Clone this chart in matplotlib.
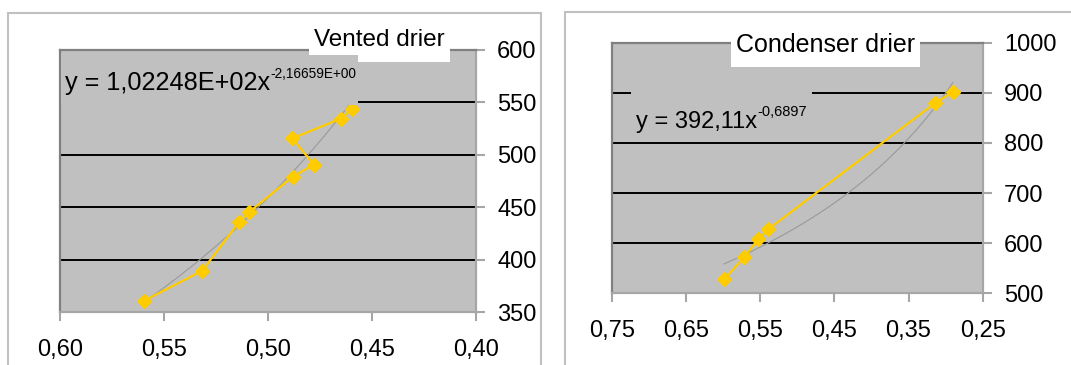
import matplotlib
matplotlib.use("Agg")
import matplotlib.pyplot as plt
import numpy as np
from matplotlib.patches import Rectangle

plt.rcParams['font.family'] = ['Liberation Sans', 'DejaVu Sans']

# ---------------- data ----------------
vented_x = [0.5596, 0.5316, 0.5138, 0.5090, 0.4881, 0.4779, 0.4883, 0.4650, 0.4593]
vented_y = [361.0, 389.6, 436.4, 445.6, 479.2, 490.7, 515.8, 534.5, 544.1]
vented_coef = (102.248, -2.16659)
vented_title = "Vented drier"
vented_eq_main = "y = 1,02248E+02x"
vented_eq_sup = "-2,16659E+00"
vented_xticks = [0.60, 0.55, 0.50, 0.45, 0.40]
vented_xticklabels = ["0,60", "0,55", "0,50", "0,45", "0,40"]
vented_yticks = [350, 400, 450, 500, 550, 600]
vented_yticklabels = ["350", "400", "450", "500", "550", "600"]

cond_x = [0.5986, 0.5716, 0.5527, 0.5392, 0.3149, 0.2901]
cond_y = [527.9, 571.8, 607.7, 627.7, 879.1, 901.6]
cond_coef = (392.11, -0.6897)
cond_title = "Condenser drier"
cond_eq_main = "y = 392,11x"
cond_eq_sup = "-0,6897"
cond_xticks = [0.75, 0.65, 0.55, 0.45, 0.35, 0.25]
cond_xticklabels = ["0,75", "0,65", "0,55", "0,45", "0,35", "0,25"]
cond_yticks = [500, 600, 700, 800, 900, 1000]
cond_yticklabels = ["500", "600", "700", "800", "900", "1000"]

# ---------------- figure ----------------
W, H = 1071, 365
fig = plt.figure(figsize=(W / 100, H / 100), dpi=100)
fig.patch.set_facecolor('white')


def fx(x):
    return x / W


def fy(y):
    return 1 - y / H


def frect(x0, y0, x1, y1, **kw):
    """rectangle given in pixel coords (top-left origin) -> figure fraction"""
    return Rectangle((fx(x0), fy(y1)), fx(x1) - fx(x0), fy(y0) - fy(y1),
                     transform=fig.transFigure, **kw)


PLOT_BG = '#c0c0c0'
GOLD = '#ffcc00'
FS = 17


def style_axes(ax, xlim, ylim, xticks, xtl, yticks, ytl, ypad):
    ax.set_facecolor(PLOT_BG)
    ax.set_xlim(*xlim)
    ax.set_ylim(*ylim)
    ax.yaxis.tick_right()
    ax.set_xticks(xticks)
    ax.set_xticklabels(xtl)
    ax.set_yticks(yticks)
    ax.set_yticklabels(ytl)
    ax.tick_params(axis='both', direction='out', length=6.5, width=1.5,
                   color='#a6a6a6', labelsize=FS, labelcolor='black')
    ax.tick_params(axis='y', pad=ypad)
    ax.tick_params(axis='x', pad=13)
    ax.grid(axis='y', color='black', linewidth=1.4)
    ax.grid(axis='x', visible=False)
    ax.set_axisbelow(True)
    for s in ('top', 'left'):
        ax.spines[s].set_color('#808080')
        ax.spines[s].set_linewidth(1.6)
    for s in ('right', 'bottom'):
        ax.spines[s].set_color('#a6a6a6')
        ax.spines[s].set_linewidth(1.6)


def draw_series(ax, xs, ys, coef):
    xs_arr = np.array(xs)
    xt = np.linspace(xs_arr.min(), xs_arr.max(), 200)
    ax.plot(xt, coef[0] * xt ** coef[1], color='#999999', linewidth=0.8, zorder=2.5)
    ax.plot(xs, ys, color=GOLD, linewidth=1.6, marker='D', markersize=7.5,
            markeredgecolor=GOLD, markerfacecolor=GOLD, zorder=3, clip_on=False)


def equation(x, y, main, sup, size_main, size_sup, dy_sup):
    t = fig.text(fx(x), fy(y), main, fontsize=size_main, ha='left', va='baseline', zorder=6)
    fig.canvas.draw()
    bb = t.get_window_extent(fig.canvas.get_renderer())
    fig.text(bb.x1 / W + 0.5 / W, fy(y - dy_sup), sup, fontsize=size_sup, ha='left',
             va='baseline', zorder=6)


# ---- Left chart ----
fig.patches.append(frect(8, 13, 541, 370, fill=False, edgecolor='#c0c0c0', linewidth=1.5, zorder=0))
axL = fig.add_axes([fx(60), fy(312.3), fx(475.7) - fx(60), fy(50) - fy(312.3)])
style_axes(axL, (0.60, 0.40), (350, 600), vented_xticks, vented_xticklabels,
           vented_yticks, vented_yticklabels, 9)
draw_series(axL, vented_x, vented_y, vented_coef)

# equation background (covers gridline)
fig.patches.append(frect(61, 54, 358, 105, facecolor=PLOT_BG, edgecolor='none', zorder=5))
# title box (with notch)
fig.patches.append(frect(309, 22, 358, 55, facecolor='white', edgecolor='none', zorder=5))
fig.patches.append(frect(358, 22, 450, 62, facecolor='white', edgecolor='none', zorder=5))
fig.text(fx(314), fy(45.5), vented_title, fontsize=17.5, ha='left', va='baseline', zorder=6)

# ---- Right chart ----
fig.patches.append(frect(565, 12, 1080, 370, fill=False, edgecolor='#c0c0c0', linewidth=1.5, zorder=0))
axR = fig.add_axes([fx(611.7), fy(293.3), fx(982.7) - fx(611.7), fy(42.7) - fy(293.3)])
style_axes(axR, (0.75, 0.25), (500, 1000), cond_xticks, cond_xticklabels,
           cond_yticks, cond_yticklabels, 9)
draw_series(axR, cond_x, cond_y, cond_coef)

fig.patches.append(frect(631, 91, 812, 142, facecolor=PLOT_BG, edgecolor='none', zorder=5))
fig.patches.append(frect(731, 28, 920, 66.7, facecolor='white', edgecolor='none', zorder=5))
fig.text(fx(736), fy(51.5), cond_title, fontsize=18, ha='left', va='baseline', zorder=6)

equation(65, 90, vented_eq_main, vented_eq_sup, 18.2, 9.8, 12)
equation(636, 127.7, cond_eq_main, cond_eq_sup, 17, 10.5, 12)

fig.savefig('out.png', dpi=100)
